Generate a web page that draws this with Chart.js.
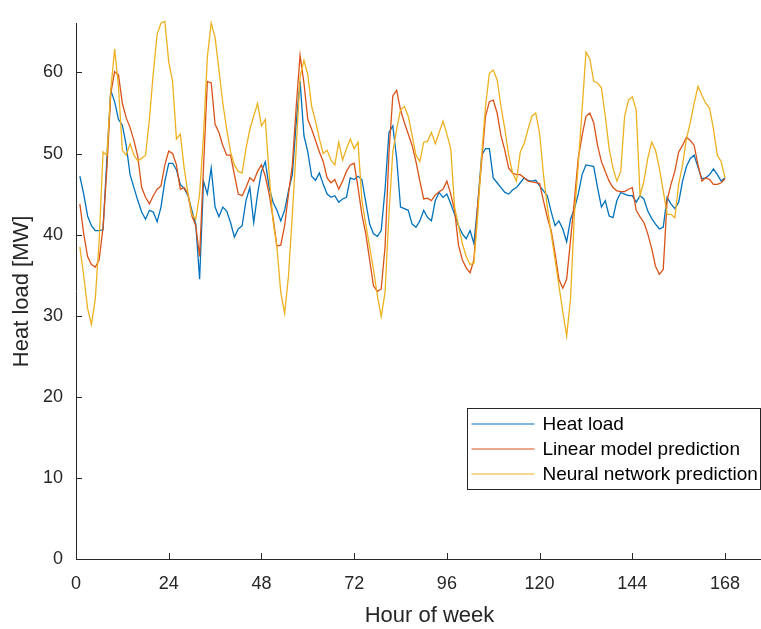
<!DOCTYPE html>
<html>
<head>
<meta charset="utf-8">
<script src="https://cdn.jsdelivr.net/npm/chart.js@4"></script>
<style>
  html, body { margin: 0; padding: 0; background: #fff; overflow: hidden; }
  #chart { display: block; }
</style>
</head>
<body>
<canvas id="chart" width="785" height="629"></canvas>
<script>
// Hour of week (x values)
const hours = [
  1, 2, 3, 4, 5, 6, 7, 8, 9, 10, 11, 12, 13, 14, 15, 16, 17, 18, 19, 20, 21, 22, 23, 24,
  25, 26, 27, 28, 29, 30, 31, 32, 33, 34, 35, 36, 37, 38, 39, 40, 41, 42, 43, 44, 45, 46, 47, 48,
  49, 50, 51, 52, 53, 54, 55, 56, 57, 58, 59, 60, 61, 62, 63, 64, 65, 66, 67, 68, 69, 70, 71, 72,
  73, 74, 75, 76, 77, 78, 79, 80, 81, 82, 83, 84, 85, 86, 87, 88, 89, 90, 91, 92, 93, 94, 95, 96,
  97, 98, 99, 100, 101, 102, 103, 104, 105, 106, 107, 108, 109, 110, 111, 112, 113, 114, 115, 116, 117, 118, 119, 120,
  121, 122, 123, 124, 125, 126, 127, 128, 129, 130, 131, 132, 133, 134, 135, 136, 137, 138, 139, 140, 141, 142, 143, 144,
  145, 146, 147, 148, 149, 150, 151, 152, 153, 154, 155, 156, 157, 158, 159, 160, 161, 162, 163, 164, 165, 166, 167, 168
]

// Measured heat load [MW]
const heatLoad = [
  47.2, 45.0, 42.3, 41.1, 40.5, 40.5, 40.6, 49.4, 57.8, 56.4, 54.2, 53.5, 51.0, 47.4, 45.8, 44.2, 42.8, 41.9, 43.0, 42.8, 41.6, 43.4, 46.6, 48.8,
  48.8, 48.0, 46.2, 45.7, 44.8, 43.0, 41.3, 34.5, 46.6, 45.0, 48.2, 43.4, 42.2, 43.4, 42.9, 41.5, 39.7, 40.7, 41.1, 44.2, 45.8, 41.5, 45.0, 47.8,
  49.0, 45.8, 44.0, 43.0, 41.7, 43.0, 45.4, 47.4, 53.8, 58.9, 52.2, 50.2, 47.2, 46.7, 47.6, 46.2, 45.0, 44.6, 44.8, 44.0, 44.4, 44.6, 47.0, 46.8,
  47.2, 46.8, 44.0, 41.3, 40.1, 39.8, 40.5, 45.6, 52.6, 53.4, 49.4, 43.4, 43.2, 43.0, 41.3, 40.9, 41.7, 43.0, 42.1, 41.7, 44.2, 45.2, 44.6, 45.0,
  43.8, 42.5, 41.1, 40.1, 39.5, 40.5, 38.9, 43.8, 49.8, 50.6, 50.6, 47.0, 46.4, 45.8, 45.2, 45.0, 45.5, 45.8, 46.4, 47.0, 46.7, 46.6, 46.7, 46.0,
  45.4, 44.8, 42.8, 41.1, 41.7, 40.7, 39.1, 41.9, 43.2, 45.0, 47.4, 48.6, 48.5, 48.4, 45.8, 43.4, 44.2, 42.3, 42.1, 44.2, 45.2, 45.0, 44.8, 44.8,
  44.0, 44.8, 44.4, 42.9, 42.0, 41.3, 40.7, 40.9, 44.6, 43.8, 43.2, 44.0, 46.6, 48.4, 49.4, 49.8, 48.3, 46.9, 47.0, 47.4, 48.1, 47.4, 46.6, 47.0
]

// Linear model prediction [MW]
const linearPred = [
  43.8, 40.1, 37.3, 36.3, 36.0, 36.9, 40.9, 48.2, 57.4, 60.1, 59.7, 56.2, 54.4, 53.2, 51.6, 49.6, 45.8, 44.6, 43.8, 44.8, 45.6, 46.0, 48.6, 50.3,
  50.0, 48.6, 45.6, 45.8, 45.0, 42.3, 41.1, 37.3, 48.2, 58.9, 58.7, 53.6, 52.6, 51.0, 49.8, 49.8, 47.4, 45.0, 44.8, 45.8, 47.0, 46.6, 47.8, 48.6,
  47.2, 45.0, 42.1, 38.6, 38.7, 41.1, 45.0, 48.6, 55.8, 62.1, 58.7, 54.2, 53.0, 51.6, 50.2, 49.0, 47.0, 46.4, 46.8, 45.6, 46.6, 47.8, 48.6, 48.8,
  45.8, 42.5, 40.1, 36.9, 33.7, 33.0, 33.3, 38.5, 50.0, 57.1, 57.8, 55.4, 53.8, 52.4, 51.0, 49.0, 46.6, 44.4, 44.5, 44.2, 44.9, 45.3, 45.6, 46.6,
  45.0, 43.0, 38.7, 36.9, 35.9, 35.3, 36.9, 43.8, 49.0, 54.6, 56.4, 56.6, 55.0, 52.2, 50.4, 48.2, 47.6, 47.4, 47.4, 47.0, 46.6, 46.5, 46.4, 46.3,
  44.2, 42.1, 40.5, 37.7, 34.5, 33.4, 34.5, 39.3, 44.2, 49.4, 52.2, 54.6, 55.0, 53.8, 51.0, 49.0, 47.8, 46.6, 45.8, 45.4, 45.3, 45.3, 45.6, 45.8,
  43.0, 42.2, 41.5, 40.1, 38.3, 36.1, 35.1, 35.7, 44.2, 46.2, 47.8, 50.2, 51.0, 52.0, 51.6, 51.0, 48.6, 46.6, 47.0, 46.8, 46.2, 46.2, 46.4, 46.9
]

// Neural network prediction [MW]
const neuralPred = [
  38.5, 34.9, 30.9, 28.9, 32.1, 39.3, 50.2, 49.8, 57.8, 62.9, 58.2, 50.4, 49.8, 51.2, 49.8, 49.1, 49.4, 49.8, 54.2, 59.9, 64.7, 66.1, 66.3, 61.3,
  58.9, 51.8, 52.4, 48.2, 45.0, 42.5, 41.9, 45.0, 52.2, 61.9, 66.1, 64.3, 60.3, 56.2, 53.0, 50.2, 48.6, 47.8, 47.6, 50.6, 53.0, 54.6, 56.2, 53.4,
  54.2, 47.4, 41.7, 38.5, 32.9, 30.3, 34.9, 42.5, 50.6, 59.5, 61.5, 59.7, 55.8, 54.0, 51.8, 50.0, 50.4, 49.2, 48.6, 51.4, 49.2, 50.6, 51.8, 50.6,
  51.4, 44.2, 41.3, 38.5, 35.7, 32.5, 29.9, 32.9, 42.5, 50.2, 53.0, 55.4, 55.8, 54.6, 52.2, 49.8, 49.0, 51.4, 51.5, 52.6, 51.2, 52.6, 54.0, 52.4,
  50.6, 43.4, 41.1, 38.9, 37.3, 36.3, 36.5, 42.5, 49.8, 55.8, 59.9, 60.3, 59.1, 55.8, 53.0, 49.8, 47.6, 46.6, 50.2, 51.2, 53.0, 54.6, 55.0, 52.5,
  47.4, 43.4, 40.1, 36.9, 33.7, 30.5, 27.5, 32.1, 42.5, 48.6, 55.4, 62.5, 61.7, 58.9, 58.7, 58.1, 54.6, 50.6, 48.2, 46.6, 47.8, 54.6, 56.6, 57.0,
  55.4, 44.8, 46.6, 49.4, 51.4, 50.4, 48.2, 45.4, 42.5, 42.5, 42.1, 46.2, 48.6, 51.8, 53.8, 56.2, 58.3, 57.2, 56.2, 55.6, 53.0, 49.8, 49.0, 47.0
]

const xTicks = [0, 24, 48, 72, 96, 120, 144, 168]
const yTicks = [0, 10, 20, 30, 40, 50, 60]
const seriesNames = ['Heat load', 'Linear model prediction', 'Neural network prediction']
const seriesColors = ['#0072BD', '#D95319', '#EDB120']

const axisColor = '#262626'
const fontFamily = "'Liberation Sans', Arial, Helvetica, sans-serif"

const toPoints = values => hours.map((h, i) => ({ x: h, y: values[i] }))

// MATLAB-style inward tick marks
const inwardTicks = {
  id: 'inwardTicks',
  afterDatasetsDraw(chart) {
    const { ctx, chartArea, scales } = chart
    ctx.save()
    ctx.strokeStyle = axisColor
    ctx.lineWidth = 1
    ctx.beginPath()
    xTicks.forEach(v => {
      const px = Math.round(scales.x.getPixelForValue(v)) + 0.5
      ctx.moveTo(px, chartArea.bottom)
      ctx.lineTo(px, chartArea.bottom - 6)
    })
    yTicks.forEach(v => {
      const py = Math.round(scales.y.getPixelForValue(v)) + 0.5
      ctx.moveTo(chartArea.left, py)
      ctx.lineTo(chartArea.left + 6, py)
    })
    ctx.stroke()
    ctx.restore()
  }
}

// Boxed legend in the lower right corner of the visible axes
const boxLegend = {
  id: 'boxLegend',
  afterDraw(chart) {
    const { ctx } = chart
    const fontSize = 19
    const rowH = 25
    const lineLen = 63
    ctx.save()
    ctx.font = `${fontSize}px ${fontFamily}`
    const textW = Math.max(...seriesNames.map(n => ctx.measureText(n).width))
    const boxW = Math.round(4 + lineLen + 8 + textW + 3)
    const boxH = 81
    const right = 760.5
    const left = right - boxW
    const top = 408.5
    ctx.fillStyle = '#ffffff'
    ctx.fillRect(left, top, boxW, boxH)
    ctx.strokeStyle = axisColor
    ctx.lineWidth = 1
    ctx.strokeRect(left, top, boxW, boxH)
    seriesNames.forEach((name, i) => {
      const cy = top + 3 + rowH * i + rowH / 2
      ctx.strokeStyle = seriesColors[i]
      ctx.lineWidth = 1.2
      ctx.beginPath()
      ctx.moveTo(left + 4, cy)
      ctx.lineTo(left + 4 + lineLen, cy)
      ctx.stroke()
      ctx.fillStyle = '#000000'
      ctx.textBaseline = 'middle'
      ctx.textAlign = 'left'
      ctx.fillText(name, left + 4 + lineLen + 8, cy + 1)
    })
    ctx.restore()
  }
}

const ctx = document.getElementById('chart').getContext('2d')

new Chart(ctx, {
  type: 'line',
  data: {
    datasets: [
      { label: seriesNames[0], data: toPoints(heatLoad), borderColor: seriesColors[0], order: 2 },
      { label: seriesNames[1], data: toPoints(linearPred), borderColor: seriesColors[1], order: 1 },
      { label: seriesNames[2], data: toPoints(neuralPred), borderColor: seriesColors[2], order: 0 }
    ]
  },
  options: {
    responsive: false,
    animation: false,
    clip: false,
    layout: {
      padding: { top: 12, right: 2, left: 0, bottom: 0 }
    },
    elements: {
      line: { borderWidth: 1.3, tension: 0, fill: false },
      point: { radius: 0 }
    },
    plugins: {
      legend: { display: false },
      tooltip: { enabled: false }
    },
    scales: {
      x: {
        type: 'linear',
        min: 0,
        max: 183,
        afterFit: s => { s.height = 70 },
        afterBuildTicks: s => { s.ticks = xTicks.map(v => ({ value: v })) },
        grid: { display: false, drawTicks: false },
        border: { display: true, color: axisColor, width: 1 },
        ticks: {
          color: axisColor,
          padding: 14,
          maxRotation: 0,
          autoSkip: false,
          font: { family: fontFamily, size: 18 }
        },
        title: {
          display: true,
          text: 'Hour of week',
          color: axisColor,
          padding: { top: 5, bottom: 0 },
          font: { family: fontFamily, size: 22 }
        }
      },
      y: {
        type: 'linear',
        min: 0,
        max: 66,
        afterFit: s => { s.width = 76 },
        afterBuildTicks: s => { s.ticks = yTicks.map(v => ({ value: v })) },
        grid: { display: false, drawTicks: false },
        border: { display: true, color: axisColor, width: 1 },
        ticks: {
          color: axisColor,
          padding: 13,
          font: { family: fontFamily, size: 18 }
        },
        title: {
          display: true,
          text: 'Heat load [MW]',
          color: axisColor,
          padding: { top: 9, bottom: 0 },
          font: { family: fontFamily, size: 22 }
        }
      }
    }
  },
  plugins: [inwardTicks, boxLegend]
})
</script>
</body>
</html>
